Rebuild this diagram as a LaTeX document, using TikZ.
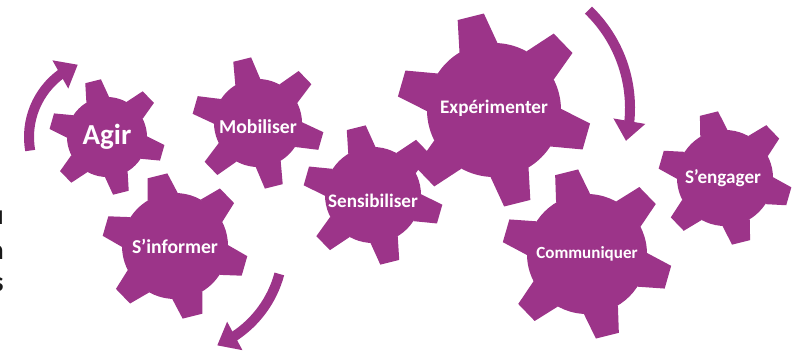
\documentclass[tikz,border=0pt]{standalone}
\usepackage{fontspec}
\setmainfont{Carlito}
\usepackage{xcolor}
\usetikzlibrary{arrows.meta,bending}

\definecolor{cogpurple}{RGB}{156,52,137}

\begin{document}
\begin{tikzpicture}[
    x=0.02cm, y=0.02cm,
    pics/cog/.style 2 args={code={
        \fill [cogpurple] (0,0) circle [radius=#1];
        \foreach \t in {104,164,...,404}
            \fill [cogpurple] ({\t-17}:#1) -- ({\t-8}:#2) -- ({\t+8}:#2) -- ({\t+17}:#1) -- cycle;
    }},
    cogtext/.style={text=white, inner sep=0pt, font=\bfseries},
    cuttext/.style={text=black!90, inner sep=0pt, anchor=base east, font=\bfseries\fontsize{16}{19}\selectfont},
    turn/.style={draw=cogpurple, line width=0.2cm, -{Triangle[length=0.4cm, width=0.62cm]}}
]
    \useasboundingbox (0,0) rectangle (801,355);

    \pic at (107,218) {cog={40}{58}};
    \pic at (258,232) {cog={44}{66}};
    \pic at (175,109) {cog={53}{73}};
    \pic at (373,160) {cog={48}{70}};
    \pic at (494,245) {cog={67}{97}};
    \pic at (587,101) {cog={60}{85}};
    \pic at (725,177) {cog={48}{67}};

    \node [cogtext, font=\bfseries\fontsize{16.5}{19}\selectfont] (agir) at (107,218) {Agir};
    \node [cogtext, font=\bfseries\fontsize{11.2}{13}\selectfont] (mobiliser) at (258,228) {Mobiliser};
    \node [cogtext, font=\bfseries\fontsize{11.2}{13}\selectfont] (informer) at (175,109) {S’informer};
    \node [cogtext, font=\bfseries\fontsize{10.9}{13}\selectfont] (sensibiliser) at (373,154) {Sensibiliser};
    \node [cogtext, font=\bfseries\fontsize{10.9}{13}\selectfont] (experimenter) at (494,247) {Expérimenter};
    \node [cogtext, font=\bfseries\fontsize{9.7}{12}\selectfont] (communiquer) at (587,101) {Communiquer};
    \node [cogtext, font=\bfseries\fontsize{10.9}{13}\selectfont] (engager) at (723,177) {S’engager};

    \node [cuttext] (sideu) at (4,130) {u};
    \node [cuttext] (sidea) at (4,95) {a};
    \node [cuttext] (sides) at (4,63) {s};

    \draw [turn] ([shift={(190:78)}]agir.center) arc [start angle=190, end angle=112, radius=78];
    \draw [turn] ([shift={(-15:108)}]informer.center) arc [start angle=-15, end angle=-67, radius=108];
    \draw [turn] ([shift={(46:136)}]experimenter.center) arc [start angle=46, end angle=-14, radius=136];
\end{tikzpicture}
\end{document}
